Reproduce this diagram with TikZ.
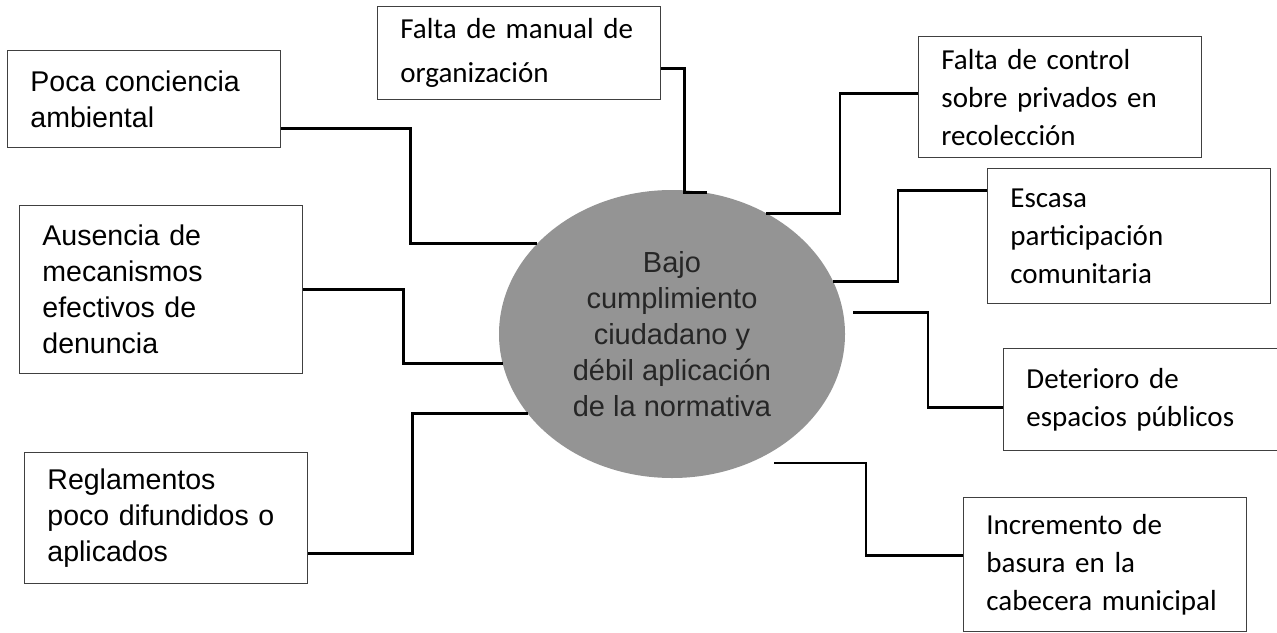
\documentclass[tikz,border=0pt]{standalone}
\usepackage{fontspec}
\usepackage{tikz}
\usetikzlibrary{shapes.geometric}
\newfontfamily\arialfont{Liberation Sans}
\newfontfamily\calibrifont{Carlito}
\newcommand{\izqfont}{\arialfont\fontsize{21.4pt}{27pt}\selectfont}
\newcommand{\derfont}{\calibrifont\fontsize{21.75pt}{28.5pt}\selectfont}
\newcommand{\centrofont}{\arialfont\fontsize{21.75pt}{26.9pt}\selectfont}

\begin{document}
\begin{tikzpicture}[
    x = 0.75pt, y = -0.75pt,
    caja/.style = {rectangle, draw=black!75, line width=0.9pt, anchor=north west,
                   align=left, text width=178pt, inner xsep=17.1pt, inner ysep=0pt},
    izq/.style = {caja, font=\izqfont},
    der/.style = {caja, font=\derfont},
    linea/.style = {black, line width=2.2pt},
    ]
  \useasboundingbox (0,0) rectangle (1277,632);

  \node[ellipse, fill=black!42, minimum width=259.5pt, minimum height=216pt, inner sep=0pt,
        align=center, text=black!85, font=\centrofont] (prob) at (672,334)
        {Bajo\\cumplimiento\\ciudadano y\\débil aplicación\\de la normativa} ;

  % causas
  \node[izq, text width=170.5pt, minimum height=72.75pt] (poca) at (7,50) {Poca conciencia\\ambiental} ;
  \node[izq, minimum height=126pt] (denuncia) at (19,205) {Ausencia de\\mecanismos\\efectivos de\\denuncia} ;
  \node[izq, minimum height=98.25pt] (reglas) at (24,452) {Reglamentos\\poco difundidos o\\aplicados} ;
  \node[der, minimum height=69.75pt, font={\calibrifont\fontsize{21.75pt}{33pt}\selectfont}] (manual) at (377,6) {Falta de manual de\\organización} ;
  \node[der, minimum height=90.75pt] (control) at (918,36) {Falta de control\\sobre privados en\\recolección} ;
  \node[der, minimum height=101.25pt] (escasa) at (987,168) {Escasa\\participación\\comunitaria} ;

  % efectos
  \node[der, minimum height=76.5pt] (deterioro) at (1003,348) {Deterioro de\\espacios públicos} ;
  \node[der, minimum height=100.5pt] (basura) at (963,497) {Incremento de\\basura en la\\cabecera municipal} ;

  \draw[linea]
  ([yshift=-22pt]poca.east) -- ++(129,0) |- (prob.146)
  (denuncia.east) -- ++(100,0) |- (prob.190)
  ([yshift=-26.6pt]reglas.east) -- ++(104,0) |- (prob.209)
  ([yshift=-11.6pt]manual.east) -- ++(23,0) |- (prob.76)
  ([yshift=3pt]control.west) -- ++(-78,0) |- (prob.52)
  ([yshift=34pt]escasa.west) -- ++(-89,0) |- (prob.18)
  ([yshift=-6pt]deterioro.west) -- ++(-75,0) |- ([xshift=7.5pt]prob.7)
  ([yshift=7pt]basura.west) -- ++(-97,0) |- ([xshift=18pt]prob.-59);
\end{tikzpicture}
\end{document}
